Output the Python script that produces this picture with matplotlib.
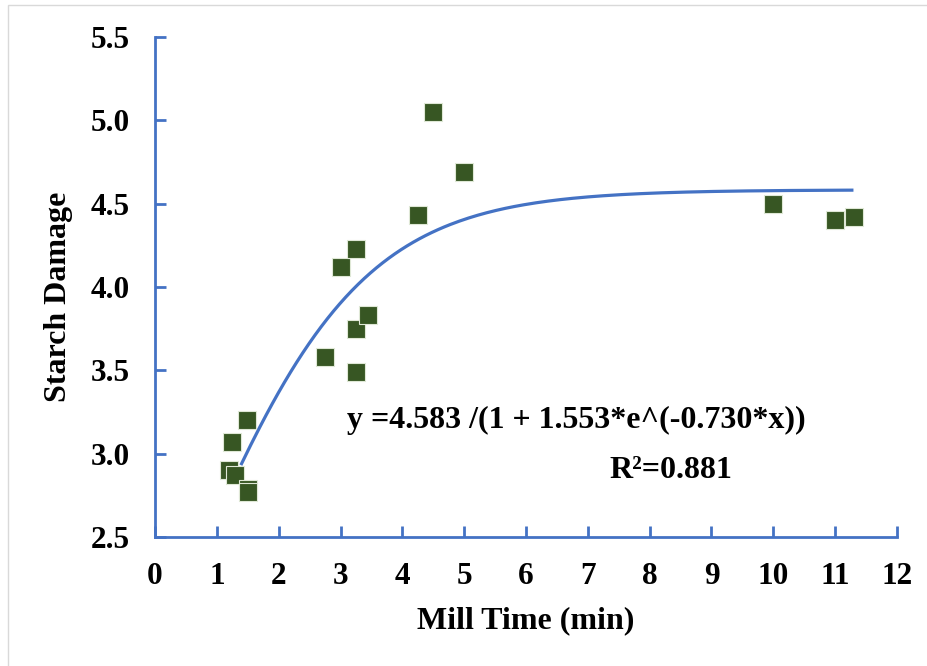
import matplotlib.pyplot as plt
import numpy as np
from matplotlib.patches import Rectangle

plt.rcParams['font.family'] = ['Liberation Serif', 'DejaVu Serif']
plt.rcParams['font.weight'] = 'bold'

# measured points (mill time, starch damage)
mill_time = [1.20, 1.25, 1.30, 1.50, 1.50, 1.49, 2.75, 3.00, 3.25, 3.25, 3.45, 3.25,
             4.25, 4.50, 5.00, 10.00, 11.00, 11.30]
starch = [2.90, 3.07, 2.87, 2.79, 2.77, 3.20, 3.58, 4.12, 4.23, 3.75, 3.83, 3.49,
          4.43, 5.05, 4.69, 4.50, 4.40, 4.42]

# logistic fit as printed on the chart
fit_a, fit_b, fit_k = 4.583, 1.553, 0.730
fit_range = (1.4, 11.27)

xticks = list(range(0, 13))
yticks = [2.5, 3.0, 3.5, 4.0, 4.5, 5.0, 5.5]

blue = '#4472C4'
green = '#375623'

fig = plt.figure(figsize=(9.28, 6.66), dpi=100)
ax = fig.add_axes([155 / 928, 1 - 537 / 666, 742 / 928, 500 / 666])

fx = np.linspace(fit_range[0], fit_range[1], 200)
fy = fit_a / (1 + fit_b * np.exp(-fit_k * fx))
ax.plot(fx, fy, color=blue, lw=2.3, zorder=2)

ax.plot(mill_time, starch, 's', ms=13, color=green, mec='#dfe8d6', mew=0.8,
        ls='none', zorder=3)

ax.set_xlim(0, 12)
ax.set_ylim(2.5, 5.5)
ax.set_xticks(xticks)
ax.set_yticks(yticks)
ax.set_yticklabels([f'{v:.1f}' for v in yticks])

for s in ['top', 'right']:
    ax.spines[s].set_visible(False)
for s in ['left', 'bottom']:
    ax.spines[s].set_color(blue)
    ax.spines[s].set_linewidth(2)
ax.tick_params(direction='in', length=8, width=2, color=blue, pad=18,
               labelsize=22.5)
for lab in ax.get_xticklabels() + ax.get_yticklabels():
    lab.set_fontweight('bold')

ax.set_xlabel('Mill Time (min)', fontsize=23, fontweight='bold', labelpad=11)
ax.set_ylabel('Starch Damage', fontsize=23, fontweight='bold')
ax.yaxis.set_label_coords(-0.11, 0.48)

ax.text(576 / 928, 1 - 420 / 666, 'y =4.583 /(1 + 1.553*e^(-0.730*x))',
        transform=fig.transFigure, ha='center', va='center', fontsize=23,
        fontweight='bold')
ax.text(671 / 928, 1 - 470 / 666, 'R²=0.881',
        transform=fig.transFigure, ha='center', va='center', fontsize=23,
        fontweight='bold')

fig.patches.append(Rectangle((8 / 928, -0.1), 2, 1.1 - 5 / 666,
                             transform=fig.transFigure, fill=False,
                             ec='#d9d9d9', lw=1))

fig.savefig('out.png', dpi=100)
